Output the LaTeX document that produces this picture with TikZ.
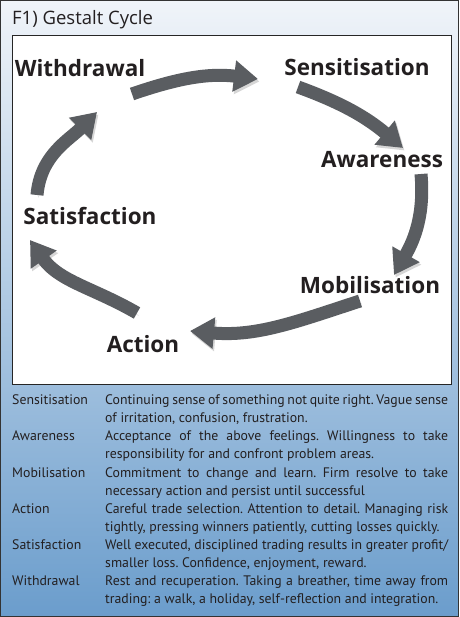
\documentclass[tikz,border=0pt]{standalone}
\usepackage{fontspec}
\setmainfont{PT Sans}
\newfontfamily\labelfont{Open Sans}
\usetikzlibrary{arrows.meta,positioning,calc}
\definecolor{boxtop}{HTML}{F0F4F9}
\definecolor{boxbot}{HTML}{6B9DCC}
\definecolor{arrgray}{HTML}{5A5D61}
\definecolor{txt}{HTML}{231F20}
\tikzset{
  stage/.style = { font=\labelfont\fontsize{22.5}{26}\selectfont\bfseries, text=txt, inner sep=0pt, anchor=base },
  cyc/.style   = { line width=13pt, draw=arrgray, -{Triangle[length=24pt,width=30pt]},
    preaction={draw=black!35, opacity=.45, transform canvas={shift={(1.5pt,-2.5pt)}}} },
  term/.style  = { anchor=base west, inner sep=0pt, text=txt, font=\fontsize{13.8}{18.2}\selectfont },
  desc/.style  = { term, text width=343pt, align=justify }
}
\frenchspacing
\begin{document}
\begin{tikzpicture}[x=1pt,y=1pt]
  \useasboundingbox (0,0) rectangle (459,-617);
  % panel and picture box
  \draw[line width=1.2pt, draw=black!80, top color=boxtop, bottom color=boxbot]
    (0.6,-0.6) rectangle (458.4,-616.4);
  \node[term, font=\labelfont\fontsize{18.5}{21}\selectfont] (title) at (12,-25) {F1) Gestalt Cycle};
  \draw[line width=1pt, draw=black!85, fill=white] (12,-36) rectangle (451,-384);

  % the cycle
  \node[stage] (wd) at (80,-77)  {Withdrawal};
  \node[stage] (se) at (357,-76) {Sensitisation};
  \node[stage] (aw) at (382,-168) {Awareness};
  \node[stage] (mo) at (370,-293) {Mobilisation};
  \node[stage] (ac) at (143,-352) {Action};
  \node[stage] (sa) at (90,-225) {Satisfaction};

  \draw[cyc] ([shift={(52,-17)}]wd.base) to[out=19,in=173]  ([shift={(-99,-3)}]se.base);
  \draw[cyc] ([shift={(-59,-11)}]se.base) to[out=-20,in=140] ([shift={(21,20)}]aw.base);
  \draw[cyc] ([shift={(39,-6)}]aw.base) to[out=-85,in=60]    ([shift={(24,18)}]mo.base);
  \draw[cyc] ([shift={(-10,-8)}]mo.base) to[out=198,in=-5]   ([shift={(47,21)}]ac.base);
  \draw[cyc] ([shift={(-6,39)}]ac.base) to[out=150,in=-55]   ([shift={(-60,-15)}]sa.base);
  \draw[cyc] ([shift={(-53,30)}]sa.base) to[out=85,in=225]   ([shift={(17,-35)}]wd.base);

  % key
  \node[term] (t1) at (12,-404) {Sensitisation};
  \node[desc] (d1) at (105,-404) {Continuing sense of something not quite right. Vague sense\linebreak of irritation, confusion, frustration.};
  \node[term] (t2) at (12,-440) {Awareness};
  \node[desc] (d2) at (105,-440) {Acceptance of the above feelings. Willingness to take\linebreak responsibility for and confront problem areas.};
  \node[term] (t3) at (12,-477) {Mobilisation};
  \node[desc] (d3) at (105,-477) {Commitment to change and learn. Firm resolve to take\linebreak necessary action and persist until successful};
  \node[term] (t4) at (12,-513) {Action};
  \node[desc] (d4) at (105,-513) {Careful trade selection. Attention to detail. Managing risk\linebreak tightly, pressing winners patiently, cutting losses quickly.};
  \node[term] (t5) at (12,-549) {Satisfaction};
  \node[desc] (d5) at (105,-549) {Well executed, disciplined trading results in greater profit/\linebreak smaller loss. Confidence, enjoyment, reward.};
  \node[term] (t6) at (12,-585) {Withdrawal};
  \node[desc] (d6) at (105,-585) {Rest and recuperation. Taking a breather, time away from\linebreak trading: a walk, a holiday, self-reflection and integration.};
\end{tikzpicture}
\end{document}
